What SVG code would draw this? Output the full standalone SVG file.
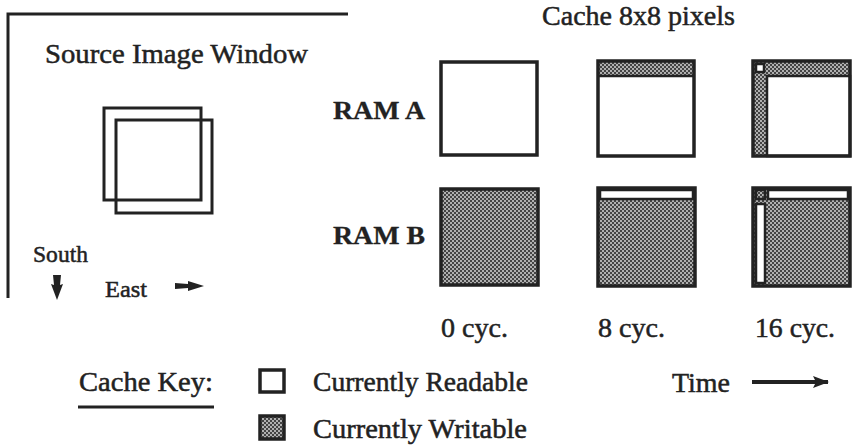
<svg xmlns="http://www.w3.org/2000/svg" width="854" height="445" viewBox="0 0 854 445">
  <defs>
    <!-- fine checker dither used for "writable" cache cells -->
    <pattern id="dither" patternUnits="userSpaceOnUse" width="4" height="4">
      <rect width="4" height="4" fill="#444"/>
      <rect x="0" y="0" width="2" height="2" fill="#b0b0b0"/>
      <rect x="2" y="2" width="2" height="2" fill="#b0b0b0"/>
    </pattern>
    <marker id="head" markerWidth="16" markerHeight="12" refX="15" refY="6" orient="auto" markerUnits="userSpaceOnUse" viewBox="0 0 16 12">
      <path d="M0,0 L16,6 L0,12 L3,6 Z" fill="#222"/>
    </marker>
  </defs>
  <style>
    text { font-family: "Liberation Serif", "Times New Roman", serif; fill: #222; stroke: #222; stroke-width: 0.5; }
    .lbl { font-size: 27px; }
    .big { font-size: 28px; }
    .bold { font-size: 26px; font-weight: bold; stroke-width: 0.3; }
    .small { font-size: 24px; }
    .box { stroke: #222; stroke-width: 3.5; }
    .cell { stroke: #222; stroke-width: 2.5; }
    .line { stroke: #222; stroke-width: 3; fill: none; }
  </style>
  <rect width="854" height="445" fill="#fff"/>

  <!-- source image window -->
  <g id="source-window">
    <path class="line" d="M8,298 L8,14 L348,14"/>
    <text class="big" x="45" y="63" textLength="263" lengthAdjust="spacingAndGlyphs">Source Image Window</text>
    <rect class="line" x="104" y="108" width="97" height="92"/>
    <rect class="line" x="116" y="120" width="96" height="93"/>
    <text class="small" x="33" y="262" textLength="55" lengthAdjust="spacingAndGlyphs">South</text>
    <text class="small" x="105" y="297" textLength="42" lengthAdjust="spacingAndGlyphs">East</text>
    <!-- direction darts -->
    <path d="M53,275 L61,275 L60,285 L63,284 L57,300 L51,284 L54,285 Z" fill="#222"/>
    <path d="M175,283 L188,284 L188,281 L204,286 L188,291 L188,288 L175,289 Z" fill="#222"/>
  </g>

  <g id="title">
    <text class="big" x="542" y="25" textLength="193" lengthAdjust="spacingAndGlyphs">Cache 8x8 pixels</text>
  </g>

  <g id="row-labels">
    <text class="bold" x="333" y="119" textLength="92" lengthAdjust="spacingAndGlyphs">RAM A</text>
    <text class="bold" x="333" y="244" textLength="92" lengthAdjust="spacingAndGlyphs">RAM B</text>
  </g>

  <!-- cycle 0 -->
  <g id="ramA-0">
    <rect class="box" x="441" y="62" width="96" height="93" fill="#fff"/>
  </g>
  <g id="ramB-0">
    <rect class="box" x="441" y="189" width="97" height="96" fill="url(#dither)"/>
  </g>

  <!-- cycle 8 -->
  <g id="ramA-8">
    <rect x="598" y="61" width="96" height="15" fill="url(#dither)"/>
    <line class="cell" x1="598" y1="76" x2="694" y2="76"/>
    <rect class="box" x="598" y="61" width="96" height="95" fill="none"/>
  </g>
  <g id="ramB-8">
    <rect x="598" y="188" width="97" height="98" fill="url(#dither)"/>
    <rect class="cell" x="600" y="190" width="93" height="9" fill="#fff"/>
    <rect class="box" x="598" y="188" width="97" height="98" fill="none"/>
  </g>

  <!-- cycle 16 -->
  <g id="ramA-16">
    <rect x="753" y="61" width="97" height="95" fill="url(#dither)"/>
    <rect class="cell" x="767" y="76" width="83" height="80" fill="#fff"/>
    <rect class="cell" x="756" y="64" width="8" height="8" fill="#fff"/>
    <rect class="box" x="753" y="61" width="97" height="95" fill="none"/>
  </g>
  <g id="ramB-16">
    <rect x="753" y="188" width="97" height="98" fill="url(#dither)"/>
    <rect class="cell" x="768" y="190" width="80" height="9" fill="#fff"/>
    <rect class="cell" x="756" y="204" width="9" height="79" fill="#fff"/>
    <rect class="cell" x="756" y="190" width="9" height="9" fill="none"/>
    <rect class="box" x="753" y="188" width="97" height="98" fill="none"/>
  </g>

  <g id="cycle-labels">
    <text class="big" x="441" y="337" textLength="67" lengthAdjust="spacingAndGlyphs">0 cyc.</text>
    <text class="big" x="598" y="337" textLength="67" lengthAdjust="spacingAndGlyphs">8 cyc.</text>
    <text class="big" x="755" y="337" textLength="80" lengthAdjust="spacingAndGlyphs">16 cyc.</text>
  </g>

  <!-- legend -->
  <g id="legend">
    <text class="lbl" x="79" y="391" textLength="134" lengthAdjust="spacingAndGlyphs">Cache Key:</text>
    <line class="line" x1="78" y1="407" x2="214" y2="407"/>
    <rect class="box" x="260" y="370" width="24" height="22" fill="#fff"/>
    <text class="lbl" x="313" y="391" textLength="215" lengthAdjust="spacingAndGlyphs">Currently Readable</text>
    <rect class="box" x="260" y="416" width="24" height="23" fill="url(#dither)"/>
    <text class="lbl" x="313" y="438" textLength="214" lengthAdjust="spacingAndGlyphs">Currently Writable</text>
  </g>

  <g id="time">
    <text class="lbl" x="672" y="392" textLength="58" lengthAdjust="spacingAndGlyphs">Time</text>
  </g>
  <g id="connectors">
    <line x1="752" y1="382" x2="828" y2="382" stroke="#222" stroke-width="4" marker-end="url(#head)"/>
  </g>
</svg>
